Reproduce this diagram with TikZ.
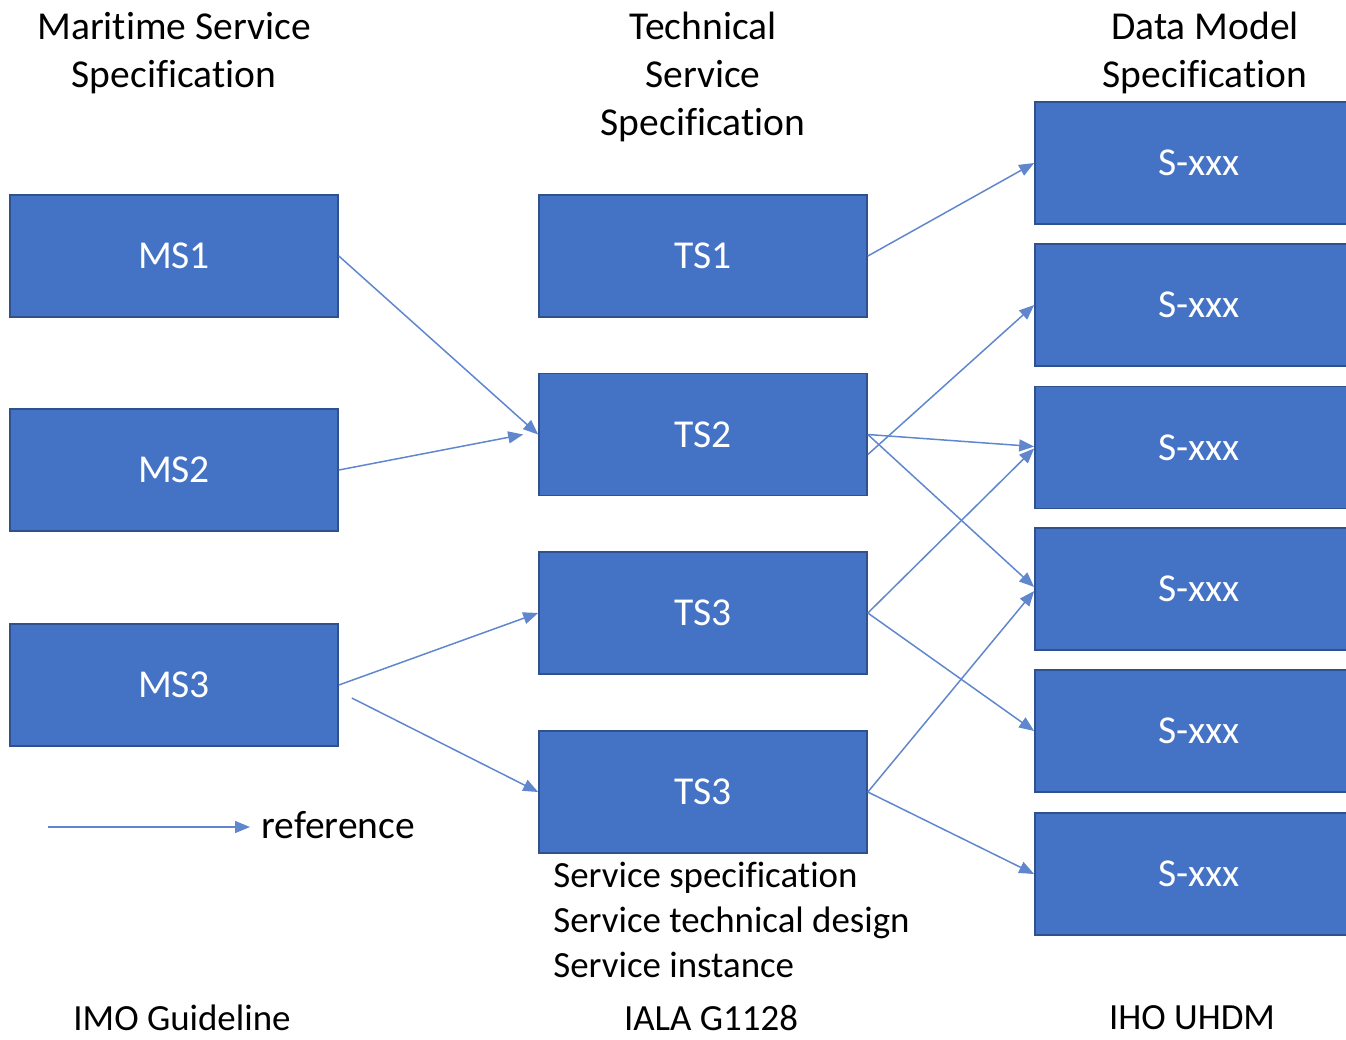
\documentclass[tikz,border=0pt]{standalone}
\usepackage{fontspec}
\setmainfont{Carlito}[Ligatures={NoCommon,NoContextual}]
\usepackage{tikz}
\usetikzlibrary{arrows.meta,positioning}

\definecolor{boxblue}{HTML}{4472C4}
\definecolor{boxedge}{HTML}{2F528F}

\begin{document}
\begin{tikzpicture}
		[
			x=0.02cm, y=-0.02cm,
			spec/.style={draw=boxedge, fill=boxblue, line width=1pt, text=white,
				minimum width=6.56cm, minimum height=2.44cm, inner sep=0pt,
				font=\fontsize{22.5}{27}\selectfont},
			head/.style={align=center, inner sep=0pt, font=\fontsize{22.5}{27.3}\selectfont},
			foot/.style={align=left, inner sep=0pt, font=\fontsize{21}{25.6}\selectfont},
			arrow/.style={-{Triangle[length=0.3cm,width=0.24cm]}, boxblue!85!white, line width=0.85pt}
		]

		\useasboundingbox (0,0) rectangle (1346,1039);
		\clip (0,0) rectangle (1346,1039);

		% column headings
		\node[head] (hms) at ( 174,  53 ) {Maritime Service\\Specification};
		\node[head] (hts) at ( 703,  77 ) {Technical\\Service\\Specification};
		\node[head] (hdm) at ( 1205, 53 ) {Data Model\\Specification};

		% maritime service specifications
		\node[spec] (ms1) at ( 174, 256 ) {MS1};
		\node[spec] (ms2) at ( 174, 470 ) {MS2};
		\node[spec] (ms3) at ( 174, 685 ) {MS3};

		% technical service specifications
		\node[spec] (ts1)  at ( 703, 256 ) {TS1};
		\node[spec] (ts2)  at ( 703, 434.5 ) {TS2};
		\node[spec] (ts3a) at ( 703, 613 ) {TS3};
		\node[spec] (ts3b) at ( 703, 792 ) {TS3};

		% data model specifications
		\node[spec] (s1) at ( 1199, 163 ) {S-xxx};
		\node[spec] (s2) at ( 1199, 305 ) {S-xxx};
		\node[spec] (s3) at ( 1199, 447.5 ) {S-xxx};
		\node[spec] (s4) at ( 1199, 589 ) {S-xxx};
		\node[spec] (s5) at ( 1199, 731 ) {S-xxx};
		\node[spec] (s6) at ( 1199, 874 ) {S-xxx};

		% documents below the technical column
		\node[foot, anchor=west] (docs) at ( 553, 920 ) {Service specification\\Service technical design\\Service instance};

		% bottom labels
		\node[foot] (imo)  at (  182, 1018 ) {IMO Guideline};
		\node[foot] (iala) at (  711, 1018 ) {IALA G1128};
		\node[foot] (iho)  at ( 1192, 1018 ) {IHO UHDM};

		% legend
		\coordinate (leg) at ( 48, 827 );
		\node[head, anchor=west] (ref) at ( 261, 825 ) {reference};
		\draw[arrow] (leg) -- (leg -| ref.west) [shorten >=0.22cm];

		% reference paths
		\foreach \from/\to in
		{
			ms1.east/ts2.west, ms3.east/ts3a.west,
			ts1.east/s1.west,
			ts3a.east/s5.west, ts3b.east/s6.west}
		\draw[arrow] (\from) -- (\to);
		\draw[arrow] (ms2.east) -- ([xshift=-0.3cm]ts2.west);
		\draw[arrow] ([xshift=0.26cm,yshift=-0.26cm]ms3.east) -- (ts3b.west);
		\draw[arrow] ([yshift=-0.4cm]ts2.east) -- (s2.west);
		\draw[arrow] (ts2.east) -- ([yshift=0.02cm]s3.west);
		\draw[arrow] (ts2.east) -- ([yshift=0.04cm]s4.west);
		\draw[arrow] (ts3a.east) -- ([yshift=-0.02cm]s3.west);
		\draw[arrow] (ts3b.east) -- ([yshift=-0.04cm]s4.west);

	\end{tikzpicture}
\end{document}
